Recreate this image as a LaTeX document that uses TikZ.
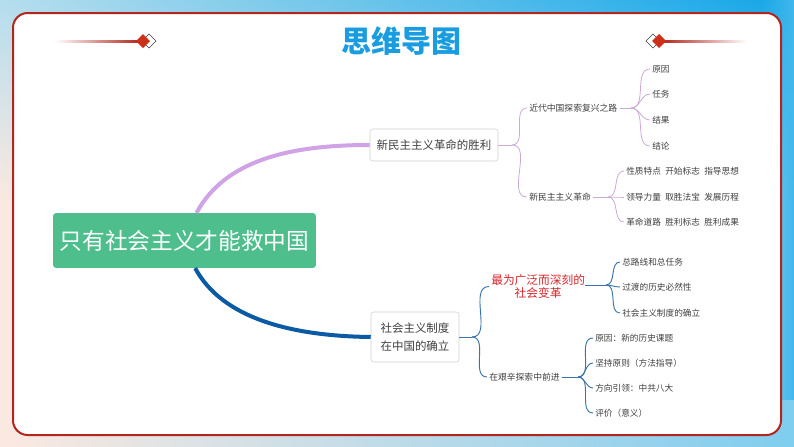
\documentclass[tikz,border=0pt]{standalone}
\usepackage{fontspec}
\setmainfont{Noto Sans CJK SC}
\usetikzlibrary{calc,fadings}

\definecolor{rootgreen}{HTML}{4DBE8C}
\definecolor{titleblue}{HTML}{1A9DE0}
\definecolor{framered}{HTML}{B3261E}
\definecolor{lilac}{HTML}{D0A2E6}
\definecolor{navy}{HTML}{0B5AA4}
\definecolor{steel}{HTML}{3A74AC}
\definecolor{mauve}{HTML}{CBAAD8}
\definecolor{inkgray}{HTML}{404040}
\definecolor{alertred}{HTML}{D8262B}
\definecolor{bgpeach}{HTML}{FBE9E1}
\definecolor{bgblue}{HTML}{7FCDEF}
\definecolor{skylight}{HTML}{B5DEEE}
\definecolor{skydeep}{HTML}{13A6E8}
\definecolor{gemred}{HTML}{CC3018}

\tikzset{
  rootnode/.style={fill=rootgreen, text=white, rounded corners=2pt, minimum width=197pt,
    minimum height=41pt, inner sep=0pt, font=\fontsize{17}{20}\selectfont},
  topicbox/.style={draw=black!18, fill=white, rounded corners=2pt, text=inkgray,
    inner sep=0pt, font=\fontsize{8.6}{13.5}\selectfont},
  subtopic/.style={anchor=west, text=inkgray, inner sep=1.5pt, font=\fontsize{6.6}{8}\selectfont},
  leafitem/.style={anchor=west, text=inkgray, inner sep=1.5pt, font=\fontsize{6.5}{8}\selectfont},
  purplelink/.style={mauve, line width=0.6pt},
  bluelink/.style={steel, line width=0.7pt},
  gem/.style={fill=gemred},
  gemshadow/.style={draw=black!75, fill=white, line width=0.5pt},
}

\begin{document}
\begin{tikzpicture}[x=0.75pt, y=-0.75pt]
  % background and frame
  \useasboundingbox (0,0) rectangle (794,447);
  \shade[left color=bgpeach, right color=bgblue] (0,0) rectangle (794,447);
  \shade[left color=skylight, right color=skydeep, path fading=south] (0,0) rectangle (794,200);
  \fill[skydeep!80, path fading=west] (760,0) rectangle (794,400);
  \draw[framered, line width=1.5pt, fill=white, rounded corners=11pt] (13,13) rectangle (781,435);

  % title
  \node[text=titleblue, font=\fontsize{22.5}{26}\selectfont\bfseries] (title) at (401,41) {思维导图};
  \shade[left color=white, right color=framered] (55,40) rectangle (140,42);
  \shade[left color=framered, right color=white] (662,40) rectangle (747,42);
  \draw[gemshadow] (149,34) -- (156,41) -- (149,48) -- (142,41) -- cycle;
  \fill[gem] (143,34) -- (150,41) -- (143,48) -- (136,41) -- cycle;
  \draw[gemshadow] (653,34) -- (660,41) -- (653,48) -- (646,41) -- cycle;
  \fill[gem] (659,34) -- (666,41) -- (659,48) -- (652,41) -- cycle;

  % main topics
  \node[rootnode] (root) at (184.5,240.5) {只有社会主义才能救中国};
  \node[topicbox, minimum width=96pt, minimum height=24pt] (victory) at (434,145) {新民主主义革命的胜利};
  \node[topicbox, minimum width=66pt, minimum height=37.5pt, align=left] (system) at (415,337)
    {社会主义制度\\在中国的确立};

  \draw[lilac, line width=3pt] ([xshift=9pt]root.north) .. controls (225,160) and (290,145) .. (victory.west);
  \draw[navy, line width=3pt] ([xshift=8pt]root.south) .. controls (222,318) and (290,336) .. (system.west);

  % upper branch
  \node[subtopic] (road) at (527,108) {近代中国探索复兴之路};
  \node[subtopic] (newdem) at (527,197) {新民主主义革命};
  \coordinate (ja) at (512,145);
  \draw[purplelink] (victory.east) -- (ja);
  \draw[purplelink] (ja) to[out=0, in=180] (road.west);
  \draw[purplelink] (ja) to[out=0, in=180] (newdem.west);

  \node[leafitem] (cause) at (650,69) {原因};
  \node[leafitem] (task) at (650,94) {任务};
  \node[leafitem] (result) at (650,120) {结果};
  \node[leafitem] (verdict) at (650,146) {结论};
  \coordinate (jr) at (631,108);
  \draw[purplelink] (road.east) -- (jr);
  \foreach \n in {cause,task,result,verdict}
    \draw[purplelink] (jr) to[out=0, in=180] (\n.west);

  \node[leafitem] (nature) at (624,171) {性质特点\enspace 开始标志\enspace 指导思想};
  \node[leafitem] (leader) at (624,197) {领导力量\enspace 取胜法宝\enspace 发展历程};
  \node[leafitem] (path) at (624,222) {革命道路\enspace 胜利标志\enspace 胜利成果};
  \coordinate (jn) at (608,197);
  \draw[purplelink] (newdem.east) -- (jn);
  \foreach \n in {nature,leader,path}
    \draw[purplelink] (jn) to[out=0, in=180] (\n.west);

  % lower branch
  \node[anchor=west, text=alertred, align=center, inner sep=1.5pt,
    font=\fontsize{8.8}{10}\selectfont] (change) at (489,286.5) {最为广泛而深刻的\\社会变革};
  \node[subtopic] (explore) at (487,377) {在艰辛探索中前进};
  \coordinate (jb) at (472,337);
  \draw[bluelink] (system.east) -- (jb);
  \draw[bluelink] (jb) to[out=0, in=180] (change.west);
  \draw[bluelink] (jb) to[out=0, in=180] (explore.west);

  \node[leafitem] (line) at (620,262) {总路线和总任务};
  \node[leafitem] (transit) at (620,287) {过渡的历史必然性};
  \node[leafitem] (founded) at (620,313) {社会主义制度的确立};
  \coordinate (jc) at (606,285);
  \draw[bluelink] ([xshift=-2pt]change.east |- jc) -- (jc);
  \foreach \n in {line,transit,founded}
    \draw[bluelink] (jc) to[out=0, in=180] (\n.west);

  \node[leafitem] (reason) at (593,338) {原因：新的历史课题};
  \node[leafitem] (principle) at (593,363) {坚持原则（方法指导）};
  \node[leafitem] (guide) at (593,388) {方向引领：中共八大};
  \node[leafitem] (assess) at (593,413) {评价（意义）};
  \coordinate (je) at (578,377);
  \draw[bluelink] (explore.east) -- (je);
  \foreach \n in {reason,principle,guide,assess}
    \draw[bluelink] (je) to[out=0, in=180] (\n.west);
\end{tikzpicture}
\end{document}
